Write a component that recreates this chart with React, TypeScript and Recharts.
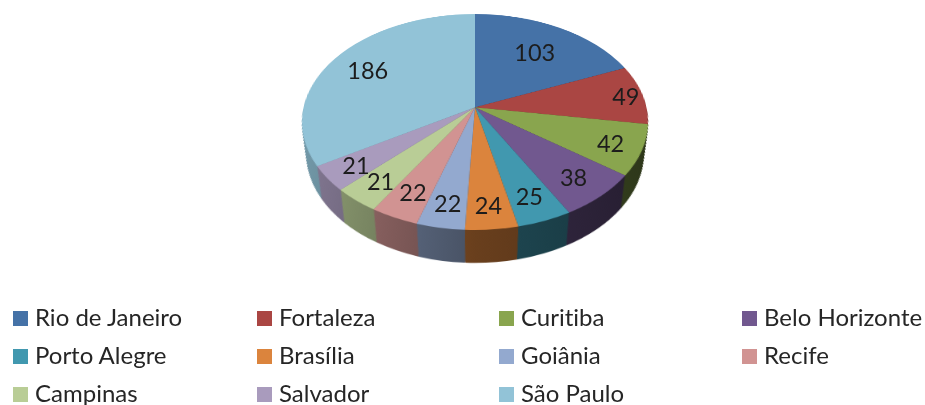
import React from 'react';
import { PieChart, Pie, Legend } from 'recharts';

const CITIES = ['Rio de Janeiro', 'Fortaleza', 'Curitiba', 'Belo Horizonte', 'Porto Alegre', 'Brasília', 'Goiânia', 'Recife', 'Campinas', 'Salvador', 'São Paulo'];
const VALUES = [103, 49, 42, 38, 25, 24, 22, 22, 21, 21, 186];
const COLORS = ['#4572A7', '#AA4643', '#89A54E', '#71588F', '#4198AF', '#DB843D', '#93A9CF', '#D19392', '#B9CD96', '#A99BBD', '#92C3D7'];
// how far out along its slice each number sits, as a share of the radius
const LABEL_REACH = [0.68, 0.9, 0.82, 0.8, 0.8, 0.82, 0.81, 0.79, 0.81, 0.82, 0.755];

const FONT = 'Lato, sans-serif';

// the pie is drawn flat and then tipped back with a perspective matrix
const BOX = 200;
const R = 180;
const SCREEN_X = 475;
const SCREEN_Y = 107.3;
const K = -0.136;
const A = 171.4;
const B = 106;
const W0 = 1 - (BOX * K) / R;
const TILT = `matrix3d(${A / R},0,0,0, ${(SCREEN_X * K) / R},${(B + SCREEN_Y * K) / R},0,${K / R}, 0,0,1,0, ${SCREEN_X * W0 - (BOX * A) / R},${SCREEN_Y * W0 - (BOX * B) / R},0,${W0})`;

const LAYERS = 44;

const shade = (hex: string, f: number) => {
  const n = parseInt(hex.slice(1), 16);
  const c = [(n >> 16) & 255, (n >> 8) & 255, n & 255].map(v => Math.round(v * f));
  return `rgb(${c[0]},${c[1]},${c[2]})`;
};

const topData = CITIES.map((city, i) => ({ city, value: VALUES[i], fill: COLORS[i] }));
const sideData = CITIES.map((city, i) => ({ city, value: VALUES[i], fill: `url(#side-${i})` }));
const layers = Array.from({ length: LAYERS }, (_, i) => 1 - i / LAYERS);

// where a point of the flat pie lands on the page
const project = (clockwiseDeg: number, reach: number) => {
  const rad = (clockwiseDeg * Math.PI) / 180;
  const u = Math.sin(rad) * reach;
  const v = -Math.cos(rad) * reach;
  const w = 1 + K * v;
  return { x: SCREEN_X + (A * u) / w, y: SCREEN_Y + (B * v) / w };
};

const renderNumber = (props: any) => {
  const { midAngle, index, value } = props;
  const p = project(90 - midAngle, LABEL_REACH[index]);
  return (
    <text x={p.x} y={p.y} dy={9.5} textAnchor="middle" fontFamily={FONT} fontSize={23.5} fill="#1c1c1c">
      {value}
    </text>
  );
};

const LEGEND_COLUMNS = [13, 257, 499, 742];
const LEGEND_ROWS = [318.5, 356, 394.5];

const renderLegend = (props: any) => (
  <div style={{ position: 'relative', width: 925, height: 405 }}>
    {(props.payload || []).map((item: any, i: number) => {
      const left = LEGEND_COLUMNS[i % 4];
      const mid = LEGEND_ROWS[Math.floor(i / 4)];
      return (
        <div key={item.value} style={{ position: 'absolute', left, top: mid - 15, height: 30, display: 'flex', alignItems: 'center', whiteSpace: 'nowrap' }}>
          <span style={{ width: 15, height: 15, background: COLORS[i], marginRight: 7 }} />
          <span style={{ position: 'relative', top: -2, fontFamily: FONT, fontSize: 24, color: '#262626', fontVariantLigatures: 'none' }}>{item.value}</span>
        </div>
      );
    })}
  </div>
);

export default function App() {
  return (
    <div style={{ position: 'absolute', left: 0, top: 0, width: 925, height: 405, overflow: 'hidden', background: '#fff', filter: 'blur(0.4px)' }}>
      <div style={{ position: 'absolute', left: 0, top: 0, transformOrigin: '0 0', transform: TILT }}>
        <PieChart width={BOX * 2} height={450} margin={{ top: 0, right: 0, bottom: 0, left: 0 }}>
          <defs>
            {COLORS.map((c, i) => (
              <linearGradient key={c} id={`side-${i}`} gradientUnits="userSpaceOnUse" x1={20} y1={0} x2={380} y2={0}>
                <stop offset="0%" stopColor={shade(c, 0.8)} />
                <stop offset="50%" stopColor={shade(c, 0.48)} />
                <stop offset="100%" stopColor={shade(c, 0.32)} />
              </linearGradient>
            ))}
          </defs>
          {layers.map(t => (
            <Pie
              key={t}
              data={sideData}
              dataKey="value"
              nameKey="city"
              cx={BOX}
              cy={BOX + t * 0.287 * R}
              outerRadius={R * (1 - 0.063 * t)}
              startAngle={90}
              endAngle={-270}
              stroke="none"
              isAnimationActive={false}
            />
          ))}
          <Pie
            data={topData}
            dataKey="value"
            nameKey="city"
            cx={BOX}
            cy={BOX}
            outerRadius={R}
            startAngle={90}
            endAngle={-270}
            stroke="none"
            isAnimationActive={false}
          />
        </PieChart>
      </div>
      <div style={{ position: 'absolute', left: 0, top: 0 }}>
        <PieChart width={925} height={405} margin={{ top: 0, right: 0, bottom: 0, left: 0 }}>
          <Pie
            data={topData}
            dataKey="value"
            nameKey="city"
            cx={475}
            cy={110}
            outerRadius={90}
            startAngle={90}
            endAngle={-270}
            fill="none"
            fillOpacity={0}
            stroke="none"
            label={renderNumber}
            labelLine={false}
            isAnimationActive={false}
          />
          <Legend itemSorter={null} content={renderLegend} wrapperStyle={{ position: 'absolute', left: 0, top: 0, width: 925, height: 405, pointerEvents: 'none' }} />
        </PieChart>
      </div>
    </div>
  );
}
